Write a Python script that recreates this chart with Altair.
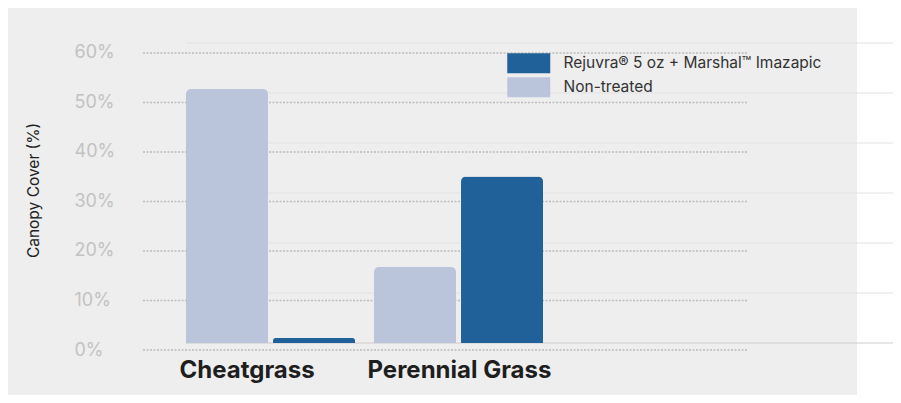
import altair as alt
import pandas as pd

categories = ["Cheatgrass", "Perennial Grass"]
series = ["Rejuvra® 5 oz + Marshal™ Imazapic", "Non-treated"]
treated = [1.0, 33.3]
nontreated = [50.8, 15.2]
tick_values = [0, 10, 20, 30, 40, 50, 60]

colors = ["#1f6198", "#bac5dc"]

rows = []
for i, c in enumerate(categories):
    rows.append({"category": c, "series": series[0], "value": treated[i]})
    rows.append({"category": c, "series": series[1], "value": nontreated[i]})
bars_df = pd.DataFrame(rows)
ticks_df = pd.DataFrame({"v": tick_values})
one_df = pd.DataFrame({"a": [0]})

FONT = "Inter"

bar_y_scale = alt.Scale(domain=[-1.4, 60], nice=False, zero=False)

background = alt.Chart(one_df).mark_rect(color="#eeeeee").encode(
    x=alt.value(-178), x2=alt.value(671), y=alt.value(-35), y2=alt.value(352)
)

solid_grid = alt.Chart(ticks_df).mark_rule(strokeWidth=1).encode(
    y=alt.Y("v:Q", scale=bar_y_scale, axis=None),
    color=alt.condition("datum.v == 0", alt.value("#cccccc"), alt.value("#e2e2e2")),
)

dotted_grid = alt.Chart(ticks_df).mark_rule(
    strokeWidth=1.6, strokeDash=[2, 1.5], color="#bcbcbc"
).encode(
    y=alt.Y(
        "v:Q",
        scale=alt.Scale(domain=[0, 62.02], nice=False, zero=False),
        axis=alt.Axis(
            orient="left",
            values=tick_values,
            labelExpr="datum.value + '%'",
            labelAlign="left",
            labelPadding=112,
            labelFont=FONT,
            labelFontSize=18,
            labelColor="#c2c2c2",
            ticks=False,
            domain=False,
            grid=False,
            zindex=1,
            title="Canopy Cover (%)",
            titleFont=FONT,
            titleFontSize=15.5,
            titleFontWeight="normal",
            titleColor="#222222",
            titleX=-153,
            titleY=147,
            titleAngle=270,
            titleAlign="center",
            titleBaseline="middle",
        ),
    ),
    x=alt.value(-43),
    x2=alt.value(561),
)

bars = alt.Chart(bars_df).mark_bar(
    cornerRadiusTopLeft=5, cornerRadiusTopRight=5
).encode(
    x=alt.X(
        "category:N",
        sort=categories,
        scale=alt.Scale(paddingInner=0.101, paddingOuter=0.9308, align=0),
        axis=alt.Axis(
            title=None,
            labelAngle=0,
            labelAlign="left",
            labelOffset=-91,
            labelPadding=8,
            labelFont=FONT,
            labelFontSize=24,
            labelFontWeight="bold",
            labelColor="#1e1e1e",
            labelLimit=400,
            ticks=False,
            domain=False,
            grid=False,
            zindex=1,
        ),
    ),
    xOffset=alt.XOffset(
        "series:N",
        sort=[series[1], series[0]],
        scale=alt.Scale(paddingInner=0.0575, paddingOuter=0),
    ),
    y=alt.Y("value:Q", scale=bar_y_scale, axis=None),
    color=alt.Color(
        "series:N",
        scale=alt.Scale(domain=series, range=colors),
        legend=alt.Legend(
            title=None,
            orient="none",
            legendX=331.75,
            legendY=9.25,
            padding=0,
            symbolType="M-2,-0.93H2V0.93H-2Z",
            symbolSize=462,
            symbolStrokeWidth=0,
            symbolOpacity=1,
            labelOffset=23.75,
            labelFont=FONT,
            labelFontSize=15.5,
            labelColor="#333333",
            rowPadding=3,
            labelLimit=400,
        ),
    ),
)

chart = alt.layer(background, solid_grid, dotted_grid, bars).resolve_scale(
    y="independent"
).properties(
    width=707,
    height=307,
    autosize=alt.AutoSizeParams(type="none"),
    padding={"left": 178, "top": 35, "right": 0, "bottom": 45},
    background="white",
).configure_view(stroke=None)

chart.save("out.html", embed_options={"renderer": "svg", "actions": False})
